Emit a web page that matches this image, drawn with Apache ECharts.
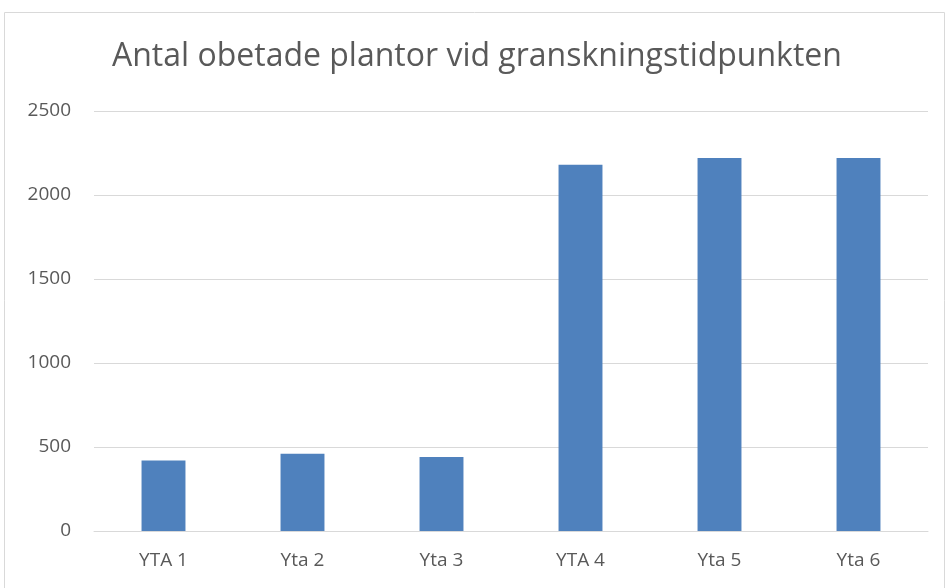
<!DOCTYPE html>
<html>
<head>
<meta charset="utf-8">
<script src="https://cdn.jsdelivr.net/npm/echarts@6/dist/echarts.min.js"></script>
<style>
  html, body { margin: 0; padding: 0; background: #fff; }
  #chart { width: 947px; height: 588px; }
</style>
</head>
<body>
<div id="chart"></div>
<script>
var chartTitle = "Antal obetade plantor vid granskningstidpunkten";
var categories = ["YTA 1", "Yta 2", "Yta 3", "YTA 4", "Yta 5", "Yta 6"];
var values = [420, 460, 440, 2180, 2220, 2220];
var yTicks = [0, 500, 1000, 1500, 2000, 2500];

var myChart = echarts.init(document.getElementById("chart"));
myChart.setOption({
    animation: false,
    textStyle: { fontFamily: "Open Sans" },
    graphic: [
        {
            type: "rect",
            shape: { x: 4.5, y: 12.5, width: 940, height: 620 },
            style: { fill: "none", stroke: "#d9d9d9", lineWidth: 1 },
            silent: true
        }
    ],
    title: {
        text: chartTitle,
        left: 112,
        top: 41,
        padding: 0,
        textStyle: {
            color: "#595959",
            fontSize: 32,
            fontWeight: "normal",
            fontFamily: "Open Sans"
        }
    },
    grid: {
        left: 94,
        right: 19,
        top: 111,
        bottom: 57,
        containLabel: false
    },
    xAxis: {
        type: "category",
        data: categories,
        axisTick: { show: false },
        axisLine: { show: true, lineStyle: { color: "#d9d9d9", width: 1 } },
        axisLabel: {
            color: "#595959",
            fontSize: 19,
            margin: 20
        }
    },
    yAxis: {
        type: "value",
        min: yTicks[0],
        max: yTicks[yTicks.length - 1],
        interval: yTicks[1] - yTicks[0],
        axisTick: { show: false },
        axisLine: { show: false },
        axisLabel: {
            color: "#595959",
            fontSize: 19,
            margin: 23,
            formatter: function (v) { return String(v); }
        },
        splitLine: {
            lineStyle: { color: "#d9d9d9", width: 1 }
        }
    },
    series: [
        {
            type: "bar",
            data: values,
            barWidth: "31.6%",
            itemStyle: { color: "#4F81BD" }
        }
    ]
});
</script>
</body>
</html>
